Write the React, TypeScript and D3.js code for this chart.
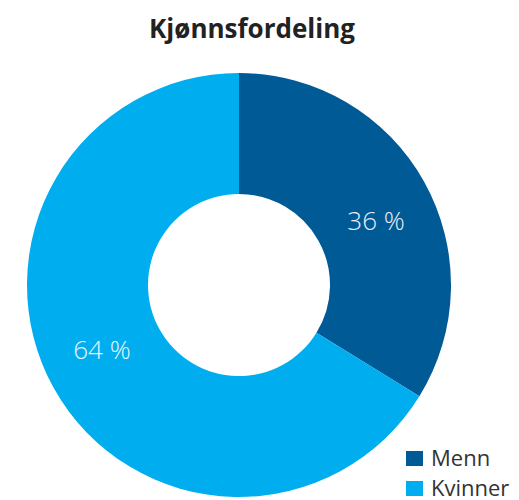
import React from 'react';
import * as d3 from 'd3';

const title = 'Kjønnsfordeling';
const categories = ['Menn', 'Kvinner'];
// slice shares as drawn in the picture
const sliceShares = [33.8, 66.2];
// percentages printed on the slices
const labelValues = [36, 64];
const colors = ['#005a96', '#00aeef'];

const App = () => {
  const width = 519;
  const height = 500;
  const cx = 239;
  const cy = 285;
  const outerR = 212;
  const innerR = 91;

  const pie = d3.pie<number>().sort(null).value(d => d);
  const arcs = pie(sliceShares);
  const labelArcs = pie(labelValues);
  const arc = d3.arc<d3.PieArcDatum<number>>().innerRadius(innerR).outerRadius(outerR);

  return (
    <svg
      width={width}
      height={height}
      style={{ position: 'absolute', left: 0, top: 0, fontFamily: '"Open Sans", sans-serif' }}
    >
      <text x={252} y={38} textAnchor="middle" fontSize={26} fontWeight={700} fill="#222">
        {title}
      </text>
      <g transform={`translate(${cx},${cy})`}>
        {arcs.map((a, i) => (
          <path key={i} d={arc(a) || ''} fill={colors[i]} />
        ))}
        {labelArcs.map((a, i) => {
          const [x, y] = arc.centroid(a);
          return (
            <text
              key={'l' + i}
              x={x}
              y={y}
              dy="0.35em"
              textAnchor="middle"
              fontSize={26}
              fontWeight={300}
              fill="#fff"
              opacity={0.9}
            >
              {labelValues[i]} %
            </text>
          );
        })}
      </g>
      {categories.map((c, i) => (
        <g key={c} transform={`translate(406,${451 + i * 30})`}>
          <rect width={17} height={15} fill={colors[i]} />
          <text x={25} y={15} fontSize={22} fill="#333">
            {c}
          </text>
        </g>
      ))}
    </svg>
  );
};

export default App;
